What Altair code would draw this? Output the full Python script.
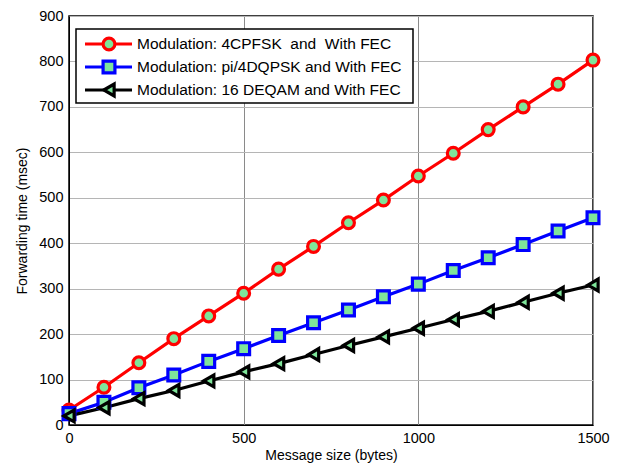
import altair as alt
import pandas as pd

sizes = [0, 100, 200, 300, 400, 500, 600, 700, 800, 900, 1000, 1100, 1200, 1300, 1400, 1500]
red_4cpfsk = [33, 83, 137, 190, 240, 290, 343, 393, 445, 495, 548, 598, 650, 700, 750, 803]
blue_dqpsk = [25, 50, 82, 110, 140, 168, 197, 225, 253, 282, 310, 340, 368, 397, 427, 456]
black_deqam = [20, 38, 58, 76, 97, 117, 135, 155, 175, 194, 213, 232, 250, 270, 290, 308]

names = [
    "Modulation: 4CPFSK \u00a0and \u00a0With FEC",
    "Modulation: pi/4DQPSK and With FEC",
    "Modulation: 16 DEQAM and With FEC",
]
colors = ["#ff0000", "#0000ff", "#000000"]
shapes = ["circle", "square", "triangle-left"]
marker_fill = "#7fe59a"
FONT = "Liberation Sans"

rows = []
for name, vals in zip(names, [red_4cpfsk, blue_dqpsk, black_deqam]):
    for s, v in zip(sizes, vals):
        rows.append({"size": s, "time": v, "series": name})
df = pd.DataFrame(rows)

color_scale = alt.Scale(domain=names, range=colors)
shape_scale = alt.Scale(domain=names, range=shapes)

x_enc = alt.X("size:Q", scale=alt.Scale(domain=[0, 1500], nice=False),
              axis=alt.Axis(values=[0, 500, 1000, 1500], format="d", title="Message size (bytes)",
                            ticks=False, labelPadding=6, titlePadding=4,
                            labelFontSize=14.5, titleFontSize=14, labelFont=FONT, titleFont=FONT,
                            labelColor="#000", titleColor="#000", domainColor="#000",
                            gridColor="#8a8a8a", labelFlush=False, titleFontWeight="normal"))
y_enc = alt.Y("time:Q", scale=alt.Scale(domain=[0, 900], nice=False),
              axis=alt.Axis(values=list(range(0, 901, 100)), title="Forwarding time (msec)",
                            ticks=False, labelPadding=6, titlePadding=9,
                            labelFontSize=14.5, titleFontSize=14, labelFont=FONT, titleFont=FONT,
                            labelColor="#000", titleColor="#000", domainColor="#000",
                            gridColor="#b5b5b5", labelFlush=False, titleFontWeight="normal"))

base = alt.Chart(df)
lines = base.mark_line(strokeWidth=3.2).encode(
    x=x_enc, y=y_enc,
    color=alt.Color("series:N", scale=color_scale, legend=None),
    detail="series:N",
)
points = base.mark_point(filled=True, fill=marker_fill, strokeWidth=3.2, size=140, opacity=1).encode(
    x="size:Q", y="time:Q",
    stroke=alt.Stroke("series:N", scale=color_scale, legend=None),
    shape=alt.Shape("series:N", scale=shape_scale, legend=None),
)
main = alt.layer(lines, points)

# legend box drawn inside plot
leg_df = pd.DataFrame({"series": names})
leg_y = alt.Y("series:N", scale=alt.Scale(type="point", domain=names, range=[28, 74], padding=0), axis=None)
box = alt.Chart(pd.DataFrame({"a": [0]})).mark_rect(fill="white", stroke="black", strokeWidth=1.5).encode(
    x=alt.value(7), x2=alt.value(344), y=alt.value(13), y2=alt.value(87))
leg_rule = alt.Chart(leg_df).mark_rule(strokeWidth=3.2).encode(
    x=alt.value(16), x2=alt.value(63), y=leg_y,
    color=alt.Color("series:N", scale=color_scale, legend=None))
leg_pt = alt.Chart(leg_df).mark_point(filled=True, fill=marker_fill, strokeWidth=3.2, size=140, opacity=1).encode(
    x=alt.value(40), y=leg_y,
    stroke=alt.Stroke("series:N", scale=color_scale, legend=None),
    shape=alt.Shape("series:N", scale=shape_scale, legend=None))
leg_txt = alt.Chart(leg_df).mark_text(align="left", baseline="middle", font=FONT, fontSize=15.5, color="black").encode(
    x=alt.value(68), y=leg_y, text="series:N")
legend = alt.layer(box, leg_rule, leg_pt, leg_txt)

chart = alt.layer(main, legend).resolve_scale(y="independent").properties(
    width=524, height=409, autosize="none",
    padding={"left": 69, "top": 16, "right": 26, "bottom": 44},
    background="white",
).configure_view(stroke="black", strokeWidth=1.5).configure_axis(gridWidth=1)

chart.save("out.html", embed_options={"renderer": "svg", "actions": False})
